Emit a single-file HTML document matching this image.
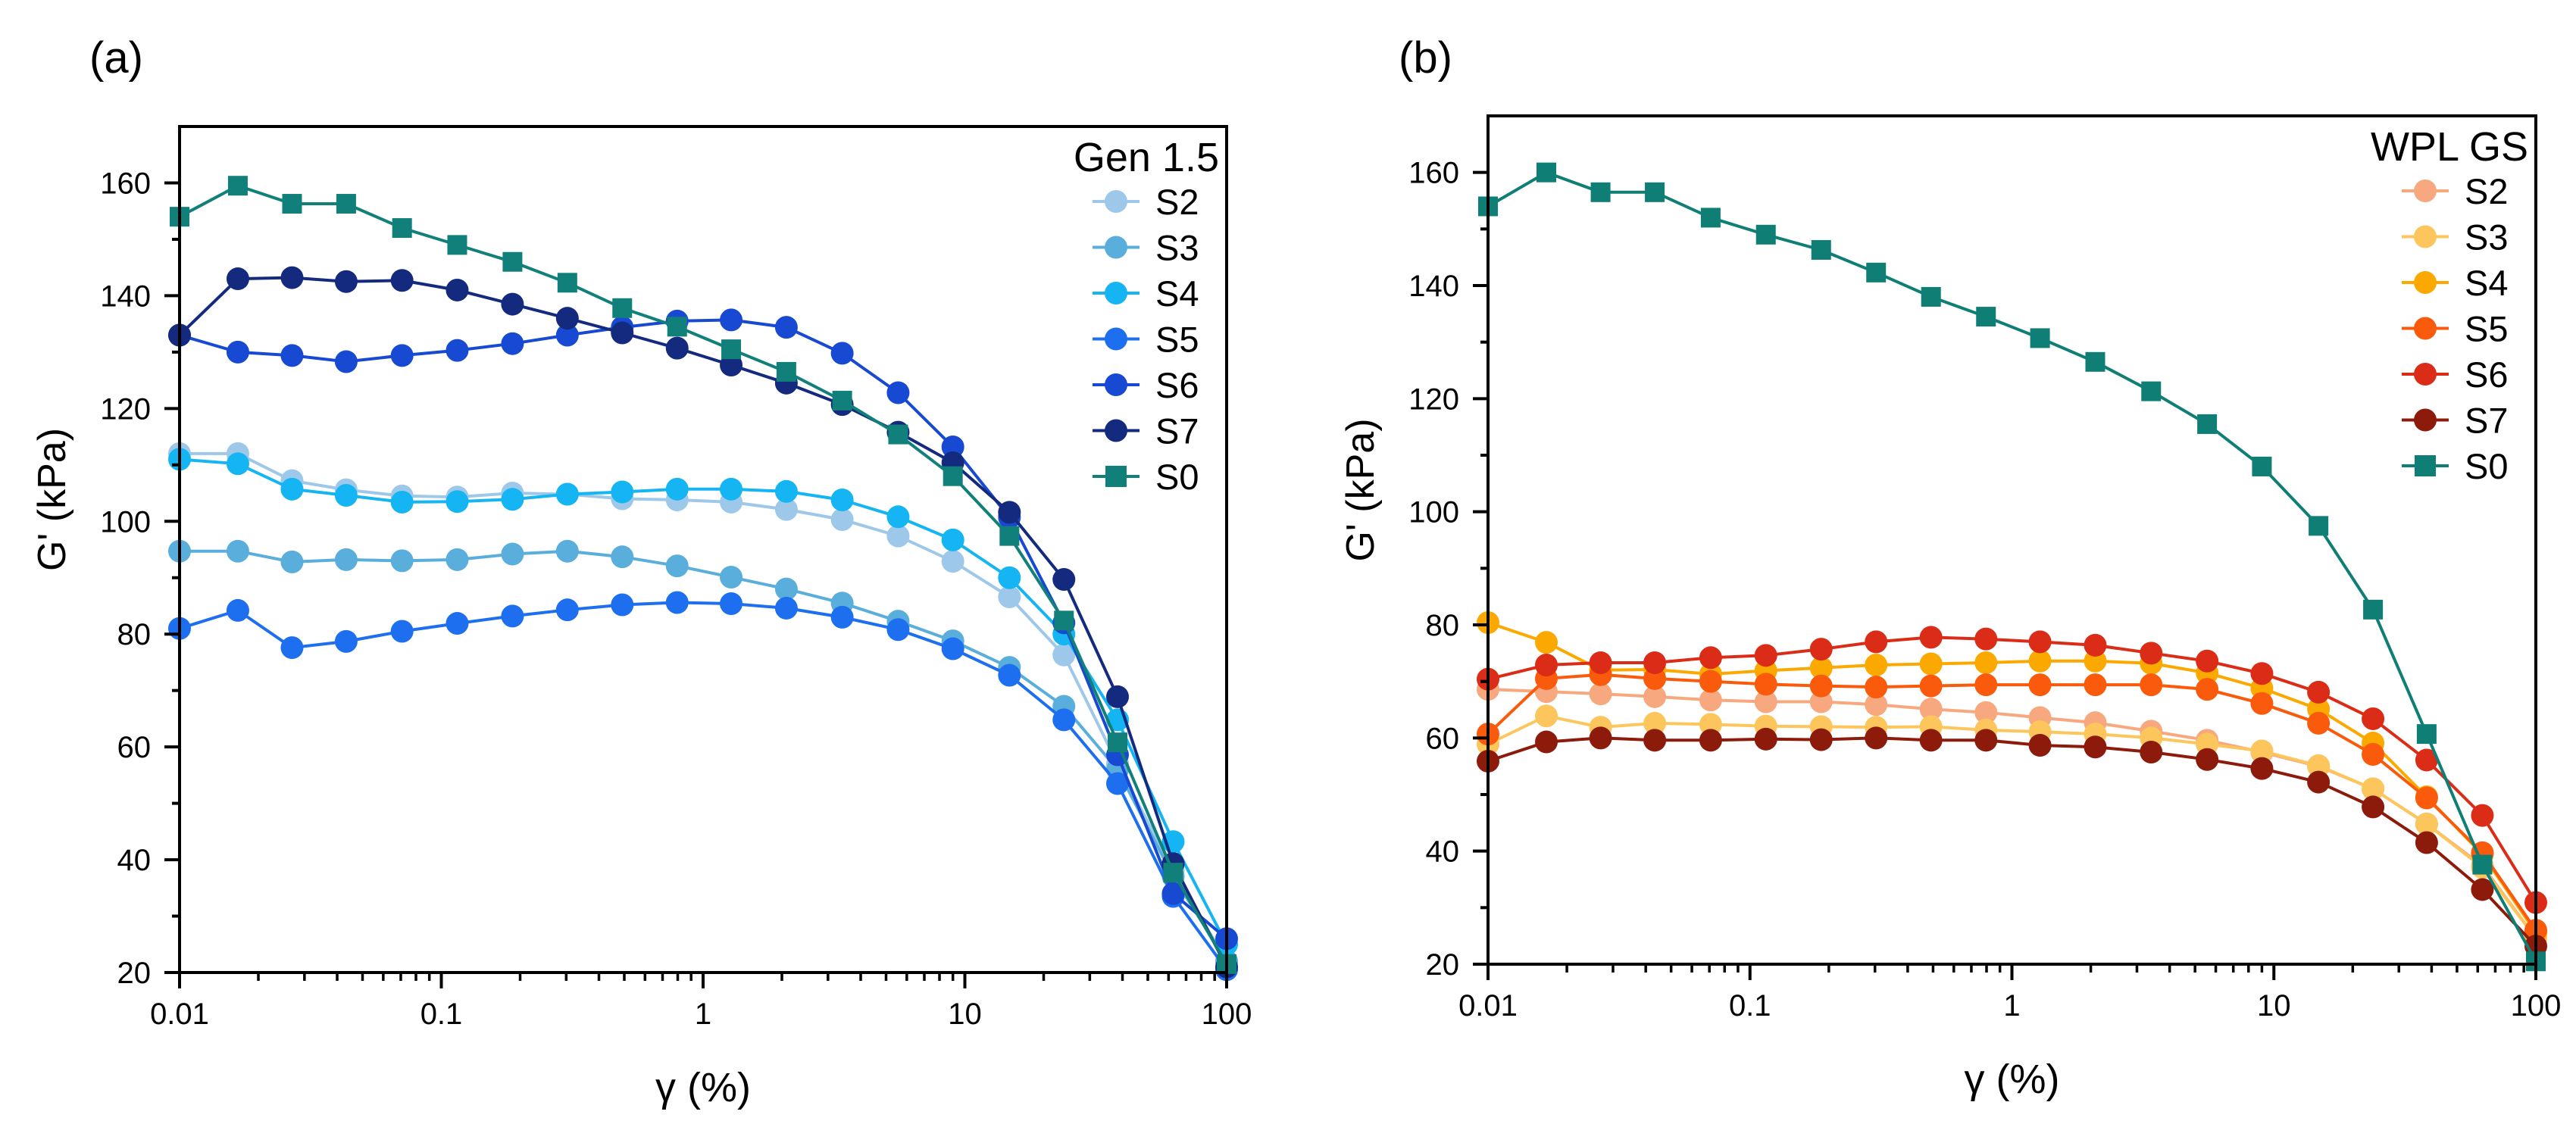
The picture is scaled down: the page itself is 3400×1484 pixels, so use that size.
<!DOCTYPE html>
<html><head><meta charset="utf-8"><style>
html,body{margin:0;padding:0;background:#fff;}
svg{display:block;font-family:"Liberation Sans",Arial,sans-serif;}
</style></head>
<body>
<svg id="fig" width="3400" height="1484" viewBox="0 0 3400 1484" xmlns="http://www.w3.org/2000/svg"></svg>
<script>
const gamma = [0.01,0.0167,0.0269,0.0433,0.0708,0.115,0.187,0.303,0.491,0.796,1.28,2.08,3.40,5.56,9.0,14.8,23.9,38.3,62.5,100];
const yTicks = [20,40,60,80,100,120,140,160];
const xTicks = [0.01,0.1,1,10,100];
const xTickLabels = ["0.01","0.1","1","10","100"];
const seriesNamesA = ["S2","S3","S4","S5","S6","S7","S0"];
const seriesNamesB = ["S2","S3","S4","S5","S6","S7","S0"];
const aS2 = [112,112,107.2,105.6,104.5,104.3,105,104.8,104,103.8,103.4,102.1,100.3,97.4,92.9,86.6,76.3,57,38,22];
const aS3 = [94.7,94.7,92.8,93.2,93,93.2,94.2,94.7,93.7,92.1,90.1,88,85.5,82.3,78.8,74.1,67.2,56,37,22];
const aS4 = [111,110.2,105.7,104.6,103.4,103.5,103.9,104.8,105.2,105.7,105.7,105.3,103.8,100.8,96.7,90,80,64.8,43.2,25];
const aS5 = [81,84.2,77.6,78.7,80.5,81.9,83.2,84.3,85.2,85.6,85.4,84.6,83,80.8,77.4,72.7,64.8,53.5,33.5,20.5];
const aS6 = [133,130,129.4,128.3,129.4,130.3,131.5,133,134.4,135.5,135.7,134.4,129.8,122.8,113.2,100.7,82,58.6,34,26];
const aS7 = [133,143,143.2,142.5,142.7,141,138.5,136,133.4,130.7,127.7,124.5,120.7,115.8,110.4,101.6,89.7,68.9,39.3,21];
const aS0 = [154,159.5,156.3,156.3,152,149,146,142.3,137.8,134.5,130.5,126.5,121.4,115.4,108,97.4,82.4,60.8,37.7,21.5];
const bS2 = [68.6,68.2,67.8,67.3,66.7,66.4,66.4,65.9,65.1,64.5,63.6,62.7,61.2,59.6,57.5,55,51,44.8,37.4,24.6];
const bS3 = [58.9,63.9,61.9,62.6,62.4,62.1,62,61.9,62,61.4,61.1,60.7,60,58.9,57.7,55.1,51,44.8,37.1,24.6];
const bS4 = [80.4,76.9,72,72.1,71.3,71.9,72.4,72.9,73.1,73.3,73.6,73.6,73.2,71.5,68.8,65.1,59.1,49.6,39.4,25.6];
const bS5 = [60.7,70.5,71.2,70.5,70,69.5,69.2,69,69.2,69.4,69.4,69.4,69.4,68.6,66.1,62.6,57.1,49.4,39.7,26];
const bS6 = [70.4,72.9,73.3,73.3,74.2,74.6,75.7,77,77.8,77.5,77,76.4,75,73.6,71.4,68.1,63.4,56.1,46.3,30.9];
const bS7 = [55.9,59.3,60,59.6,59.6,59.8,59.7,60,59.6,59.6,58.7,58.4,57.5,56.2,54.6,52.2,47.8,41.5,33.2,23.2];
const bS0 = [154,160,156.5,156.5,152,149,146.3,142.3,138,134.5,130.7,126.5,121.3,115.5,108,97.5,82.7,60.7,37.6,20.5];

const NS="http://www.w3.org/2000/svg";
const svg=document.getElementById('fig');
function el(tag,attrs,parent){const e=document.createElementNS(NS,tag);for(const k in attrs)e.setAttribute(k,attrs[k]);(parent||svg).appendChild(e);return e;}

function panel(cfg){
  const g=el('g',{});
  
  
  const L=cfg.L,R=cfg.R,T=cfg.T,B=cfg.B;
  const yMin=20,yMax=170;
  const xs=v=>L+(Math.log10(v)+2)/4*(R-L);
  const ys=v=>B-(v-yMin)/(yMax-yMin)*(B-T);
  const pl=el('text',{x:cfg.labelX,y:96,'font-size':58,fill:'#000'},g);
  pl.textContent=cfg.label;
  
  
  const sg=el('g',{},g);
  
  
  cfg.series.forEach(s=>{
    const pts=s.data.map((v,i)=>xs(gamma[i]).toFixed(1)+','+ys(v).toFixed(1)).join(' ');
    const pline=el('polyline',{points:pts,fill:'none',stroke:s.color,'stroke-width':4},sg);
    
    
    s.data.forEach((v,i)=>{
      let m;
      if(s.square){m=el('rect',{x:xs(gamma[i])-13,y:ys(v)-13,width:26,height:26,fill:s.color},sg);}
      else{m=el('circle',{cx:xs(gamma[i]),cy:ys(v),r:15,fill:s.color},sg);}
      
      
    });
  });
  const box=el('rect',{x:L,y:T,width:R-L,height:B-T,fill:'none',stroke:'#000','stroke-width':4},g);
  
  
  yTicks.forEach(v=>{
    const t=el('line',{x1:L-20,x2:L,y1:ys(v),y2:ys(v),stroke:'#000','stroke-width':4},g);
    
    
    const tx=el('text',{x:L-38,y:ys(v)+14,'font-size':40,'text-anchor':'end',fill:'#000'},g);
    tx.textContent=v;
    
    
    if(v+10<yMax){
      const mt=el('line',{x1:L-10,x2:L,y1:ys(v+10),y2:ys(v+10),stroke:'#000','stroke-width':4},g);
      
      
    }
  });
  xTicks.forEach((v,i)=>{
    const t=el('line',{x1:xs(v),x2:xs(v),y1:B,y2:B+21,stroke:'#000','stroke-width':4},g);
    
    
    const tx=el('text',{x:xs(v),y:B+68,'font-size':40,'text-anchor':'middle',fill:'#000'},g);
    tx.textContent=xTickLabels[i];
    
    
    if(v<100){for(let k=2;k<=9;k++){
      const mt=el('line',{x1:xs(v*k),x2:xs(v*k),y1:B,y2:B+11,stroke:'#000','stroke-width':3.5},g);
      
      
    }}
  });
  const xt=el('text',{x:(L+R)/2,y:B+170,'font-size':54,'text-anchor':'middle',fill:'#000'},g);
  xt.textContent='γ (%)';
  
  
  const yt=el('text',{x:0,y:0,'font-size':52,'text-anchor':'middle',fill:'#000',transform:`translate(${cfg.yTitleX},${(T+B)/2-66}) rotate(-90)`},g);
  yt.textContent="G' (kPa)";
  
  
  const lg=el('g',{},g);
  
  
  const lt=el('text',{x:R-10,y:T+59,'font-size':54,'text-anchor':'end',fill:'#000'},lg);
  lt.textContent=cfg.legendTitle;
  
  
  cfg.series.forEach((s,i)=>{
    const cy=T+99+i*60.5, cx=R-146;
    const e=el('g',{},lg);
    
    
    el('line',{x1:cx-31,x2:cx+31,y1:cy,y2:cy,stroke:s.color,'stroke-width':4},e);
    if(s.square) el('rect',{x:cx-14,y:cy-14,width:28,height:28,fill:s.color},e);
    else el('circle',{cx:cx,cy:cy,r:15,fill:s.color},e);
    const t=el('text',{x:cx+52,y:cy+17,'font-size':47,fill:'#000'},e);
    t.textContent=s.name;
  });
}

const colA=["#9ec8ea","#5aaedb","#14b5f2","#1d6ff0","#1749d2","#142a7e","#12807a"];
const colB=["#f8a87e","#fcc65c","#fba900","#f95a0b","#da2c16","#8d1b0c","#0f7f76"];
const dA=[aS2,aS3,aS4,aS5,aS6,aS7,aS0];
const dB=[bS2,bS3,bS4,bS5,bS6,bS7,bS0];
panel({name:'panel-a',label:'(a)',labelX:118,L:237,R:1619,T:167,B:1284,yTitleX:86,legendTitle:'Gen 1.5',
  series:seriesNamesA.map((n,i)=>({name:n,color:colA[i],data:dA[i],square:n==='S0'}))});
panel({name:'panel-b',label:'(b)',labelX:1846,L:1964,R:3347,T:153,B:1273,yTitleX:1813,legendTitle:'WPL GS',
  series:seriesNamesB.map((n,i)=>({name:n,color:colB[i],data:dB[i],square:n==='S0'}))});
</script>
</body></html>
